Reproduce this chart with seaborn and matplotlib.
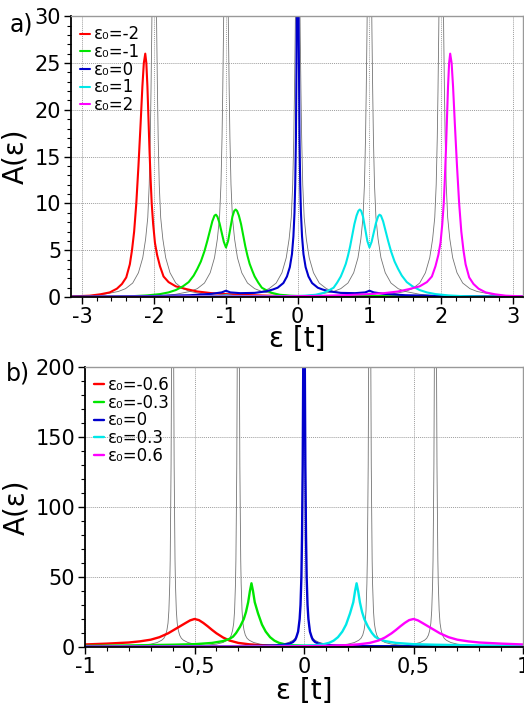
import numpy as np
import pandas as pd
import matplotlib
matplotlib.use("Agg")
import matplotlib.pyplot as plt
import seaborn as sns
from matplotlib.ticker import MultipleLocator, FixedLocator, FixedFormatter

# ---------------- panel a) data ----------------
labels_a = ["ε₀=-2", "ε₀=-1", "ε₀=0", "ε₀=1", "ε₀=2"]

eps_red_a = [-3.14, -2.9, -2.75, -2.62, -2.52, -2.45, -2.39, -2.34, -2.31, -2.28, -2.25, -2.22, -2.19,
             -2.165, -2.145, -2.125, -2.11, -2.095, -2.08, -2.065, -2.05, -2.035, -2.015, -1.99, -1.96,
             -1.92, -1.87, -1.8, -1.7, -1.55, -1.4, -1.2, -1.0, -0.7, -0.4, 0.0, 0.5, 1.0, 2.0, 3.14]
A_red_a = [0.08, 0.15, 0.3, 0.5, 0.9, 1.4, 2.1, 3.5, 5.0, 7.0, 10.0, 14.0, 18.5, 22.5, 25.0, 26.0,
           25.0, 22.5, 19.0, 15.5, 12.5, 10.0, 7.8, 5.8, 4.5, 3.3, 2.2, 1.6, 1.15, 0.85, 0.6, 0.42,
           0.32, 0.22, 0.15, 0.1, 0.07, 0.06, 0.04, 0.03]

eps_grn_a = [-3.14, -2.6, -2.3, -2.1, -1.92, -1.8, -1.7, -1.6, -1.52, -1.45, -1.4, -1.35, -1.3, -1.26,
             -1.22, -1.19, -1.16, -1.14, -1.12, -1.09, -1.06, -1.03, -1.0, -0.97, -0.94, -0.91, -0.885,
             -0.865, -0.845, -0.82, -0.79, -0.76, -0.73, -0.7, -0.67, -0.63, -0.6, -0.55, -0.5, -0.43,
             -0.36, -0.25, -0.1, 0.0, 0.5, 0.9, 1.0, 1.1, 1.5, 2.0, 3.14]
A_grn_a = [0.02, 0.05, 0.1, 0.18, 0.32, 0.5, 0.75, 1.15, 1.6, 2.3, 3.0, 3.8, 4.9, 6.0, 7.2, 8.1, 8.7,
           8.8, 8.6, 7.9, 6.9, 5.9, 5.3, 6.0, 7.3, 8.6, 9.2, 9.35, 9.2, 8.7, 7.8, 6.6, 5.4, 4.4, 3.55,
           2.75, 2.2, 1.55, 1.0, 0.7, 0.45, 0.25, 0.15, 0.12, 0.1, 0.12, 0.2, 0.12, 0.06, 0.04, 0.02]

eps_blu_a = [-3.14, -2.5, -2.0, -1.5, -1.2, -1.06, -1.0, -0.94, -0.8, -0.6, -0.45, -0.35, -0.28, -0.2,
             -0.15, -0.11, -0.08, -0.06, -0.045, -0.035, -0.025, -0.015, -0.007, 0.0, 0.007, 0.015,
             0.025, 0.035, 0.045, 0.06, 0.08, 0.11, 0.15, 0.2, 0.28, 0.35, 0.45, 0.6, 0.8, 0.94, 1.0,
             1.06, 1.2, 1.5, 2.0, 2.5, 3.14]
A_blu_a = [0.05, 0.08, 0.12, 0.2, 0.35, 0.5, 0.68, 0.5, 0.42, 0.45, 0.6, 0.8, 1.0, 1.5, 2.2, 3.2, 4.6,
           6.5, 9.0, 12.0, 17.0, 27.0, 38.0, 45.0, 38.0, 27.0, 17.0, 12.0, 9.0, 6.5, 4.6, 3.2, 2.2,
           1.5, 1.0, 0.8, 0.6, 0.45, 0.42, 0.5, 0.68, 0.5, 0.35, 0.2, 0.12, 0.08, 0.05]

eps_cyn_a = [-3.14, -2.0, -1.5, -1.1, -1.0, -0.9, -0.5, 0.0, 0.1, 0.25, 0.36, 0.43, 0.5, 0.55, 0.6,
             0.63, 0.67, 0.7, 0.73, 0.76, 0.79, 0.82, 0.845, 0.865, 0.885, 0.91, 0.94, 0.97, 1.0, 1.03,
             1.06, 1.09, 1.12, 1.14, 1.16, 1.19, 1.22, 1.26, 1.3, 1.35, 1.4, 1.45, 1.52, 1.6, 1.7, 1.8,
             1.92, 2.1, 2.3, 2.6, 3.14]
A_cyn_a = [0.02, 0.04, 0.06, 0.12, 0.2, 0.12, 0.1, 0.12, 0.15, 0.25, 0.45, 0.7, 1.0, 1.55, 2.2, 2.75,
           3.55, 4.4, 5.4, 6.6, 7.8, 8.7, 9.2, 9.35, 9.2, 8.6, 7.3, 6.0, 5.3, 5.9, 6.9, 7.9, 8.6, 8.8,
           8.7, 8.1, 7.2, 6.0, 4.9, 3.8, 3.0, 2.3, 1.6, 1.15, 0.75, 0.5, 0.32, 0.18, 0.1, 0.05, 0.02]

eps_mag_a = [-3.14, -2.0, -1.0, -0.5, 0.0, 0.4, 0.7, 1.0, 1.2, 1.4, 1.55, 1.7, 1.8, 1.87, 1.92, 1.96,
             1.99, 2.015, 2.035, 2.05, 2.065, 2.08, 2.095, 2.11, 2.125, 2.145, 2.165, 2.19, 2.22, 2.25,
             2.28, 2.31, 2.34, 2.39, 2.45, 2.52, 2.62, 2.75, 2.9, 3.14]
A_mag_a = [0.03, 0.04, 0.06, 0.07, 0.1, 0.15, 0.22, 0.32, 0.42, 0.6, 0.85, 1.15, 1.6, 2.2, 3.3, 4.5,
           5.8, 7.8, 10.0, 12.5, 15.5, 19.0, 22.5, 25.0, 26.0, 25.0, 22.5, 18.5, 14.0, 10.0, 7.0, 5.0,
           3.5, 2.1, 1.4, 0.9, 0.5, 0.3, 0.15, 0.08]

# unperturbed (gray) peaks of panel a): offsets from centre and heights
gray_c_a = [-2, -1, 0, 1, 2]
gray_d_a = [-1.2, -0.9, -0.7, -0.5, -0.4, -0.3, -0.22, -0.16, -0.12, -0.09, -0.07, -0.055, -0.045,
            -0.035, -0.025, 0.0, 0.025, 0.035, 0.045, 0.055, 0.07, 0.09, 0.12, 0.16, 0.22, 0.3, 0.4,
            0.5, 0.7, 0.9, 1.2]
gray_A_a = [0.08, 0.15, 0.3, 0.6, 0.9, 1.5, 2.6, 4.2, 6.2, 8.5, 12.0, 17.0, 22.0, 28.0, 35.0, 60.0,
            35.0, 28.0, 22.0, 17.0, 12.0, 8.5, 6.2, 4.2, 2.6, 1.5, 0.9, 0.6, 0.3, 0.15, 0.08]

# ---------------- panel b) data ----------------
labels_b = ["ε₀=-0.6", "ε₀=-0.3", "ε₀=0", "ε₀=0.3", "ε₀=0.6"]

eps_red_b = [-1.0, -0.9, -0.8, -0.75, -0.7, -0.66, -0.62, -0.58, -0.54, -0.52, -0.5, -0.48, -0.46,
             -0.44, -0.42, -0.4, -0.37, -0.34, -0.3, -0.25, -0.2, -0.1, 0.0, 0.2, 0.5, 1.0]
A_red_b = [1.8, 2.4, 3.2, 4.0, 5.2, 7.0, 9.8, 13.5, 17.2, 19.0, 20.0, 19.2, 17.2, 14.8, 12.2, 9.8,
           6.8, 4.6, 2.9, 1.9, 1.3, 0.8, 0.55, 0.35, 0.25, 0.15]

eps_grn_b = [-1.0, -0.8, -0.6, -0.5, -0.42, -0.37, -0.34, -0.324, -0.31, -0.292, -0.275, -0.265,
             -0.255, -0.247, -0.24, -0.233, -0.225, -0.21, -0.192, -0.175, -0.155, -0.135, -0.115,
             -0.09, -0.05, 0.0, 0.3, 0.6, 1.0]
A_grn_b = [0.8, 1.1, 1.6, 2.0, 2.9, 4.2, 5.8, 7.4, 10.0, 14.5, 20.0, 25.0, 32.0, 40.0, 45.5, 40.0,
           32.0, 24.0, 16.0, 11.0, 7.0, 4.5, 3.0, 2.0, 1.3, 0.9, 0.4, 0.25, 0.15]

eps_blu_b = [-1.0, -0.6, -0.3, -0.2, -0.13, -0.09, -0.065, -0.05, -0.04, -0.035, -0.027, -0.02,
             -0.016, -0.012, -0.009, -0.006, -0.003, 0.0, 0.003, 0.006, 0.009, 0.012, 0.016, 0.02,
             0.027, 0.035, 0.04, 0.05, 0.065, 0.09, 0.13, 0.2, 0.3, 0.6, 1.0]
A_blu_b = [0.3, 0.4, 0.6, 0.8, 1.1, 1.6, 2.5, 3.6, 5.2, 7.0, 11.0, 20.0, 30.0, 50.0, 80.0, 130.0,
           220.0, 320.0, 220.0, 130.0, 80.0, 50.0, 30.0, 20.0, 11.0, 7.0, 5.2, 3.6, 2.5, 1.6, 1.1,
           0.8, 0.6, 0.4, 0.3]

eps_cyn_b = [-1.0, -0.6, -0.3, 0.0, 0.05, 0.09, 0.115, 0.135, 0.155, 0.175, 0.192, 0.21, 0.225,
             0.233, 0.24, 0.247, 0.255, 0.265, 0.275, 0.292, 0.31, 0.324, 0.34, 0.37, 0.42, 0.5, 0.6,
             0.8, 1.0]
A_cyn_b = [0.15, 0.25, 0.4, 0.9, 1.3, 2.0, 3.0, 4.5, 7.0, 11.0, 16.0, 24.0, 32.0, 40.0, 45.5, 40.0,
           32.0, 25.0, 20.0, 14.5, 10.0, 7.4, 5.8, 4.2, 2.9, 2.0, 1.6, 1.1, 0.8]

eps_mag_b = [-1.0, -0.5, -0.2, 0.0, 0.1, 0.2, 0.25, 0.3, 0.34, 0.37, 0.4, 0.42, 0.44, 0.46, 0.48,
             0.5, 0.52, 0.54, 0.58, 0.62, 0.66, 0.7, 0.75, 0.8, 0.9, 1.0]
A_mag_b = [0.15, 0.25, 0.35, 0.55, 0.8, 1.3, 1.9, 2.9, 4.6, 6.8, 9.8, 12.2, 14.8, 17.2, 19.2, 20.0,
           19.0, 17.2, 13.5, 9.8, 7.0, 5.2, 4.0, 3.2, 2.4, 1.8]

gray_c_b = [-0.6, -0.3, 0.0, 0.3, 0.6]
gray_d_b = [-0.4, -0.25, -0.15, -0.1, -0.07, -0.05, -0.04, -0.032, -0.026, -0.021, -0.017, -0.013,
            -0.011, -0.009, -0.007, -0.005, -0.003, 0.0, 0.003, 0.005, 0.007, 0.009, 0.011, 0.013,
            0.017, 0.021, 0.026, 0.032, 0.04, 0.05, 0.07, 0.1, 0.15, 0.25, 0.4]
gray_A_b = [0.3, 0.6, 1.2, 2.0, 3.2, 4.8, 6.2, 8.5, 12.0, 17.0, 26.0, 45.0, 62.0, 95.0, 130.0, 200.0,
            300.0, 450.0, 300.0, 200.0, 130.0, 95.0, 62.0, 45.0, 26.0, 17.0, 12.0, 8.5, 6.2, 4.8,
            3.2, 2.0, 1.2, 0.6, 0.3]

colors = ["#ff0000", "#00e600", "#0000cc", "#00e8e8", "#ff00ff"]


def make_df(curves, labels):
    parts = []
    for (x, y), lab in zip(curves, labels):
        parts.append(pd.DataFrame({"eps": x, "A": y, "curve": lab}))
    return pd.concat(parts, ignore_index=True)


def style_axis(ax):
    ax.grid(True, which="major", color="0.62", linestyle=(0, (1, 1)), lw=0.7)
    ax.set_axisbelow(True)
    for s in ["left", "bottom"]:
        ax.spines[s].set_color("black")
        ax.spines[s].set_linewidth(1.3)
    for s in ["top", "right"]:
        ax.spines[s].set_color("0.6")
        ax.spines[s].set_linewidth(1.0)
    ax.tick_params(which="both", direction="out", bottom=True, left=True, top=False, right=False,
                   color="black", labelcolor="black")
    ax.tick_params(which="major", length=5, width=1.0, labelsize=15, pad=2)
    ax.tick_params(which="minor", length=3, width=0.8)


def draw_panel(ax, curves, labels, gray_c, gray_d, gray_A, lw):
    for c in gray_c:
        sns.lineplot(x=[c + d for d in gray_d], y=gray_A, ax=ax, color="0.45", lw=0.6,
                     sort=False, estimator=None, legend=False)
    df = make_df(curves, labels)
    sns.lineplot(data=df, x="eps", y="A", hue="curve", hue_order=labels, palette=colors,
                 sort=False, estimator=None, lw=lw, ax=ax)


sns.set_style("white")
plt.rcParams["font.family"] = ["DejaVu Sans"]
plt.rcParams["axes.unicode_minus"] = False
plt.rcParams["text.color"] = "black"
plt.rcParams["axes.labelcolor"] = "black"

fig = plt.figure(figsize=(5.24, 7.04), dpi=100)
ax1 = fig.add_axes([0.1355, 0.578, 0.8626, 0.399])
ax2 = fig.add_axes([0.1622, 0.081, 0.836, 0.3977])

# panel a)
curves_a = [(eps_red_a, A_red_a), (eps_grn_a, A_grn_a), (eps_blu_a, A_blu_a),
            (eps_cyn_a, A_cyn_a), (eps_mag_a, A_mag_a)]
draw_panel(ax1, curves_a, labels_a, gray_c_a, gray_d_a, gray_A_a, 1.5)
ax1.set_xlim(-3.16, 3.14)
ax1.set_ylim(0, 30)
ax1.xaxis.set_major_locator(MultipleLocator(1))
ax1.xaxis.set_minor_locator(MultipleLocator(0.2))
ax1.yaxis.set_major_locator(MultipleLocator(5))
ax1.yaxis.set_minor_locator(MultipleLocator(1))
style_axis(ax1)
ax1.set_xlabel("ε [t]", fontsize=20, labelpad=-1)
ax1.set_ylabel("A(ε)", fontsize=20, labelpad=4)

# panel b)
curves_b = [(eps_red_b, A_red_b), (eps_grn_b, A_grn_b), (eps_blu_b, A_blu_b),
            (eps_cyn_b, A_cyn_b), (eps_mag_b, A_mag_b)]
draw_panel(ax2, curves_b, labels_b, gray_c_b, gray_d_b, gray_A_b, 1.7)
ax2.set_xlim(-1, 1)
ax2.set_ylim(0, 200)
ax2.xaxis.set_major_locator(FixedLocator([-1, -0.5, 0, 0.5, 1]))
ax2.xaxis.set_major_formatter(FixedFormatter(["-1", "-0,5", "0", "0,5", "1"]))
ax2.xaxis.set_minor_locator(MultipleLocator(0.1))
ax2.yaxis.set_major_locator(MultipleLocator(50))
ax2.yaxis.set_minor_locator(MultipleLocator(10))
style_axis(ax2)
ax2.set_xlabel("ε [t]", fontsize=20, labelpad=0)
ax2.set_ylabel("A(ε)", fontsize=20, labelpad=4)

for ax in (ax1, ax2):
    ax.legend(loc="upper left", frameon=False, fontsize=12, handlelength=0.6,
              handletextpad=0.25, labelspacing=-0.02, borderaxespad=0.3, borderpad=0.25)

fig.text(0.019, 0.982, "a)", fontsize=17, va="top", ha="left")
fig.text(0.012, 0.486, "b)", fontsize=17, va="top", ha="left")

fig.savefig("out.png", dpi=100)
